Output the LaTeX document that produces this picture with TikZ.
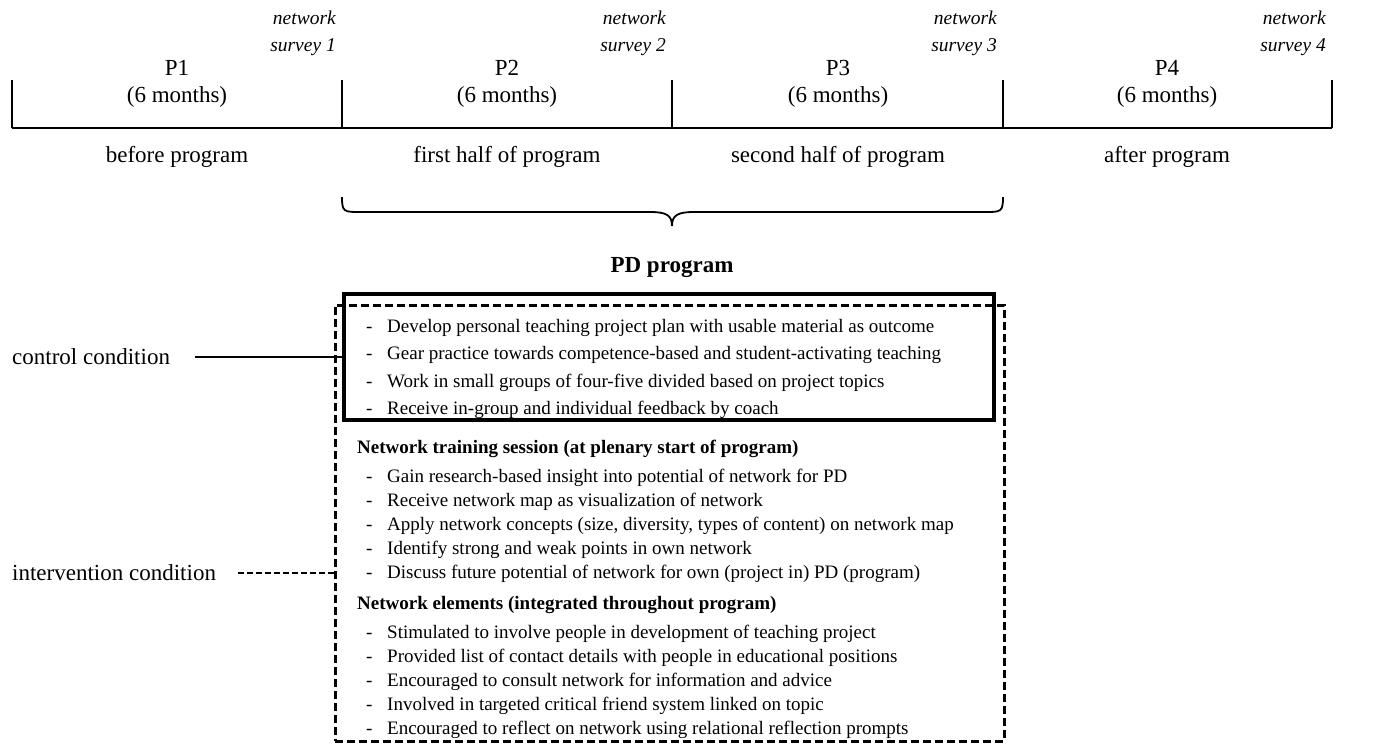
\documentclass[tikz,border=0pt]{standalone}
\usepackage{fontspec}
\setmainfont{Liberation Serif}
\begin{document}
\begin{tikzpicture}[x=1pt,y=-1pt,
  tl/.style={line width=1.8pt},
  perlab/.style={font=\fontsize{23}{26}\selectfont, anchor=base, inner sep=0},
  surv/.style={font=\fontsize{19.5}{24}\selectfont\itshape, anchor=base east, inner sep=0},
  cond/.style={font=\fontsize{23}{26}\selectfont, anchor=base west, inner sep=0},
  itemtext/.style={font=\fontsize{19}{22}\selectfont, anchor=base west, inner sep=0},
  hyph/.style={font=\fontsize{19}{22}\selectfont, anchor=base west, inner sep=0},
  headtext/.style={font=\fontsize{19}{22}\selectfont\bfseries, anchor=base west, inner sep=0},
  solidbox/.style={draw, line width=3.2pt, minimum width=650pt, minimum height=126pt, inner sep=0, outer sep=0},
  dashbox/.style={draw, line width=3pt, dash pattern=on 8pt off 4pt, minimum width=669pt, minimum height=436pt, inner sep=0, outer sep=0},
]
\useasboundingbox (0,0) rectangle (1384,748);

% timeline
\coordinate (t0) at (12,128);
\coordinate (t1) at (342,128);
\coordinate (t2) at (672,128);
\coordinate (t3) at (1003,128);
\coordinate (t4) at (1332,128);
\draw[tl] (t0) -- (t4);
\foreach \k in {0,...,4} {
  \coordinate (u\k) at ([yshift=48pt]t\k);
  \draw[tl] (t\k) -- (u\k);
}

% survey labels
\foreach \k in {1,...,4} {
  \node[surv] (sa\k) at ([xshift=-6pt,yshift=104pt]t\k) {network};
  \node[surv] (sb\k) at ([xshift=-6pt,yshift=77pt]t\k) {survey \k};
}

% period labels
\foreach \k/\x/\lab in {1/177/before program, 2/507/first half of program, 3/838/second half of program, 4/1167/after program} {
  \node[perlab] (pa\k) at (\x,75) {P\k};
  \node[perlab] (pb\k) at (\x,102) {(6 months)};
  \node[perlab] (pc\k) at (\x,162) {\lab};
}

% brace
\coordinate (bl) at (342,197);
\coordinate (bm) at (672,226);
\coordinate (br) at (1003,197);
\draw[line width=1.8pt] (bl) .. controls (342,212) and (344,212) .. (360,212)
  -- (650,212) .. controls (666,212) and (672,215) .. (bm)
  .. controls (672,215) and (678,212) .. (694,212)
  -- (985,212) .. controls (1001,212) and (1003,212) .. (br);

\node[font=\fontsize{23}{26}\selectfont\bfseries, anchor=base, inner sep=0] (pd) at (672,272) {PD program};

% boxes
\node[dashbox] (ibox) at (669.5,523) {};
\node[solidbox] (cbox) at (669,357) {};

% conditions
\node[cond] (cc) at (12,364) {control condition};
\coordinate (ccs) at (195,357);
\draw[line width=1.5pt] (ccs) -- (ccs -| cbox.west);

\node[cond] (ic) at (12,580) {intervention condition};
\coordinate (ics) at (238,573);
\draw[line width=2.2pt, dash pattern=on 6pt off 3pt] (ics) -- (ics -| ibox.west);

% control items
\foreach \t [count=\i] in {
  Develop personal teaching project plan with usable material as outcome,
  Gear practice towards competence-based and student-activating teaching,
  Work in small groups of four-five divided based on project topics,
  Receive in-group and individual feedback by coach} {
  \node[hyph] (ch\i) at (366,{332+27.6*(\i-1)}) {-};
  \node[itemtext] (ct\i) at (387,{332+27.6*(\i-1)}) {\t};
}

% training session
\node[headtext] (th) at (357,453) {Network training session (at plenary start of program)};
\foreach \t [count=\i] in {
  Gain research-based insight into potential of network for PD,
  Receive network map as visualization of network,
  {Apply network concepts (size, diversity, types of content) on network map},
  Identify strong and weak points in own network,
  Discuss future potential of network for own (project in) PD (program)} {
  \node[hyph] (tsh\i) at (366,{482+24*(\i-1)}) {-};
  \node[itemtext] (tst\i) at (387,{482+24*(\i-1)}) {\t};
}

% network elements
\node[headtext] (eh) at (357,609) {Network elements (integrated throughout program)};
\foreach \t [count=\i] in {
  Stimulated to involve people in development of teaching project,
  Provided list of contact details with people in educational positions,
  Encouraged to consult network for information and advice,
  Involved in targeted critical friend system linked on topic,
  Encouraged to reflect on network using relational reflection prompts} {
  \node[hyph] (neh\i) at (366,{638+24*(\i-1)}) {-};
  \node[itemtext] (net\i) at (387,{638+24*(\i-1)}) {\t};
}
\end{tikzpicture}
\end{document}
